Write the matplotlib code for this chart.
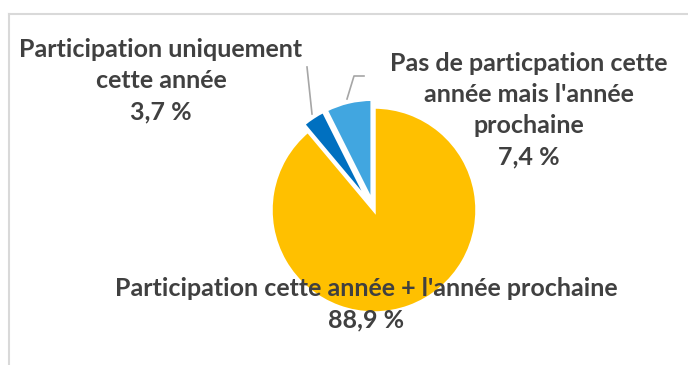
import matplotlib
matplotlib.use("Agg")
import matplotlib.pyplot as plt
from matplotlib.lines import Line2D

categories = [
    "Participation cette année + l'année prochaine",
    "Participation uniquement\ncette année",
    "Pas de particpation cette\nannée mais l'année\nprochaine",
]
values = [88.9, 3.7, 7.4]
pct_labels = ["88,9 %", "3,7 %", "7,4 %"]
colors = ["#FFC000", "#0070C0", "#41A6E0"]

W, H = 688, 365
fig = plt.figure(figsize=(W / 100, H / 100), dpi=100)
ax = fig.add_axes([0, 0, 1, 1])

# chart area border (top and left edges visible)
fig.add_artist(Line2D([9 / W, 1], [1 - 14 / H, 1 - 14 / H], color="#D9D9D9", lw=1.5))
fig.add_artist(Line2D([9 / W, 9 / W], [1 - 14 / H, 0], color="#D9D9D9", lw=1.5))

cx, cy, r = 374, H - 210, 103
# explode offsets are in data units (pixels here)
wedges, _ = ax.pie(
    values,
    colors=colors,
    startangle=90,
    counterclock=False,
    explode=[0, 8, 8],
    center=(cx, cy),
    radius=r,
    wedgeprops=dict(edgecolor="white", linewidth=2.5),
    frame=True,
)
ax.set_xlim(0, W)
ax.set_ylim(0, H)
ax.set_aspect("equal")
ax.axis("off")

txt = dict(fontfamily="Lato", fontweight="bold", color="#404040",
           fontsize=18, ha="center", va="center", linespacing=1.43)

# label for the large slice
ax.text(366, H - 304, categories[0] + "\n" + pct_labels[0], **txt)
# label for the small dark blue slice
ax.text(161, H - 81, categories[1] + "\n" + pct_labels[1], **txt)
# label for the light blue slice
ax.text(529, H - 110, categories[2] + "\n" + pct_labels[2], **txt)

# leader lines
lc = "#A6A6A6"
ax.plot([307, 312], [H - 67, H - 114], color=lc, lw=1.2)
ax.plot([347, 354, 364], [H - 99, H - 76, H - 76], color=lc, lw=1.2)

fig.savefig("out.png", dpi=100)
